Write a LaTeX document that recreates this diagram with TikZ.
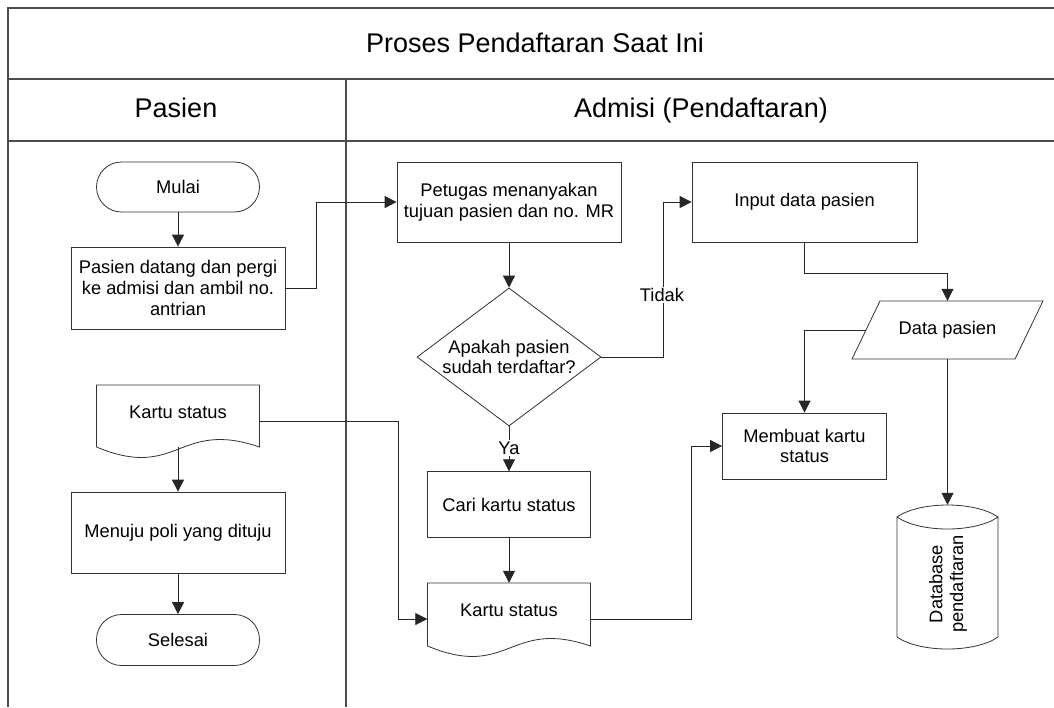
\documentclass[tikz,border=0pt]{standalone}
\usepackage{fontspec}
\setmainfont{Liberation Sans}
\usetikzlibrary{arrows.meta,shapes.geometric,calc}
\begin{document}
\begin{tikzpicture}[x=1pt,y=-1pt,
  line join=miter,
  frame/.style={draw=black!70, line width=1.3pt},
  txt/.style={font=\fontsize{18.3}{20.7}\selectfont},
  box/.style={txt, draw=black!80, line width=0.8pt, inner sep=0pt, align=center},
  term/.style={box, rounded corners=25pt},
  plain/.style={txt, inner sep=0pt, align=center},
  shapeline/.style={draw=black!80, line width=0.8pt},
  arr/.style={draw=black!85, line width=0.8pt, -{Triangle[length=12pt,width=12pt]}},
  lbl/.style={txt, fill=white, inner sep=1.5pt},
  head/.style={anchor=base, font=\fontsize{27}{30}\selectfont}
]
\useasboundingbox (0,0) rectangle (1054,707);
\fill[white] (0,0) rectangle (1054,707);

% swimlane frame
\draw[frame] (8,707) -- (8,8) -- (1060,8);
\draw[frame] (8,79) -- (1060,79);
\draw[frame] (8,141) -- (1060,141);
\draw[frame] (346,79) -- (346,707);

\node[head] (title) at (535,52) {Proses Pendaftaran Saat Ini};
\node[head] (lanepasien) at (176,117) {Pasien};
\node[head] (laneadmisi) at (701,117) {Admisi (Pendaftaran)};

% lane: Pasien
\node[term, minimum width=163pt, minimum height=50pt] (mulai) at (178,187) {Mulai};
\node[box, minimum width=214pt, minimum height=82pt] (datang) at (178,288)
  {Pasien datang dan pergi\\ke admisi dan ambil no.\\antrian};
\node[plain, minimum width=163pt, minimum height=55pt] (ksa) at (178,412.5) {Kartu status};
\draw[shapeline] (96.5,447) -- (96.5,385) -- (259.5,385) -- (259.5,447)
  .. controls (178,419) and (178,481) .. (96.5,447);
\node[box, minimum width=214pt, minimum height=81pt] (menuju) at (178,532.5) {Menuju poli yang dituju};
\node[term, minimum width=163pt, minimum height=51pt] (selesai) at (178,640) {Selesai};

% lane: Admisi
\node[box, minimum width=224pt, minimum height=80pt] (petugas) at (509,202)
  {Petugas menanyakan\\tujuan pasien dan no. MR};
\node[box, diamond, aspect=1.333, minimum width=184pt, minimum height=138pt] (cek) at (509,357)
  {Apakah pasien\\sudah terdaftar?};
\node[box, minimum width=163pt, minimum height=66pt] (cari) at (509,504.7) {Cari kartu status};
\node[plain, minimum width=163pt, minimum height=54pt] (ksb) at (509,610) {Kartu status};
\draw[shapeline] (427.5,646) -- (427.5,583) -- (590.5,583) -- (590.5,646)
  .. controls (509,618) and (509,680) .. (427.5,646);
\node[box, minimum width=225pt, minimum height=80pt] (input) at (804.5,202) {Input data pasien};
\node[plain, minimum width=163pt, minimum height=58pt] (data) at (947.5,330) {Data pasien};
\draw[shapeline] (880,301) -- (1043,301) -- (1015,359) -- (852,359) -- cycle;
\node[box, minimum width=164pt, minimum height=66pt] (membuat) at (804.5,446) {Membuat kartu\\status};
\node[inner sep=0pt, minimum width=101pt, minimum height=144pt] (db) at (947.5,577) {};
\draw[shapeline] (897,517) .. controls (920,501) and (975,501) .. (998,517)
  .. controls (975,533) and (920,533) .. (897,517) -- (897,637)
  .. controls (920,653) and (975,653) .. (998,637) -- (998,517);
\node[plain, rotate=90] (dbtext) at (948,584) {Database\\pendaftaran};

% connectors
\draw[arr] (mulai.south) -- (datang.north);
\draw[arr] (datang.east) -- ++(31,0) |- (petugas.west);
\draw[arr] (petugas.south) -- (cek.north);
\draw[arr] (cek.east) -- ++(62,0) |- (input.west);
\draw[arr] (cek.south) -- (cari.north);
\draw[arr] (cari.south) -- (ksb.north);
\draw[arr] ([yshift=-34.5pt]ksa.center) -- (menuju.north);
\draw[arr] (menuju.south) -- (selesai.north);
\draw[arr] ([yshift=-8.5pt]ksa.east) -- ++(139,0) |- ([yshift=-9pt]ksb.west);
\draw[arr] ([yshift=-9pt]ksb.east) -- ++(101,0) |- (membuat.west);
\draw[arr] (input.south) -- ++(0,31) -| (data.north);
\draw[arr] (data.west) -| (membuat.north);
\draw[arr] (data.south) -- (db.north);

% branch labels
\node[lbl] (tidak) at (662,295) {Tidak};
\node[lbl] (ya) at (509,448) {Ya};
\end{tikzpicture}
\end{document}
